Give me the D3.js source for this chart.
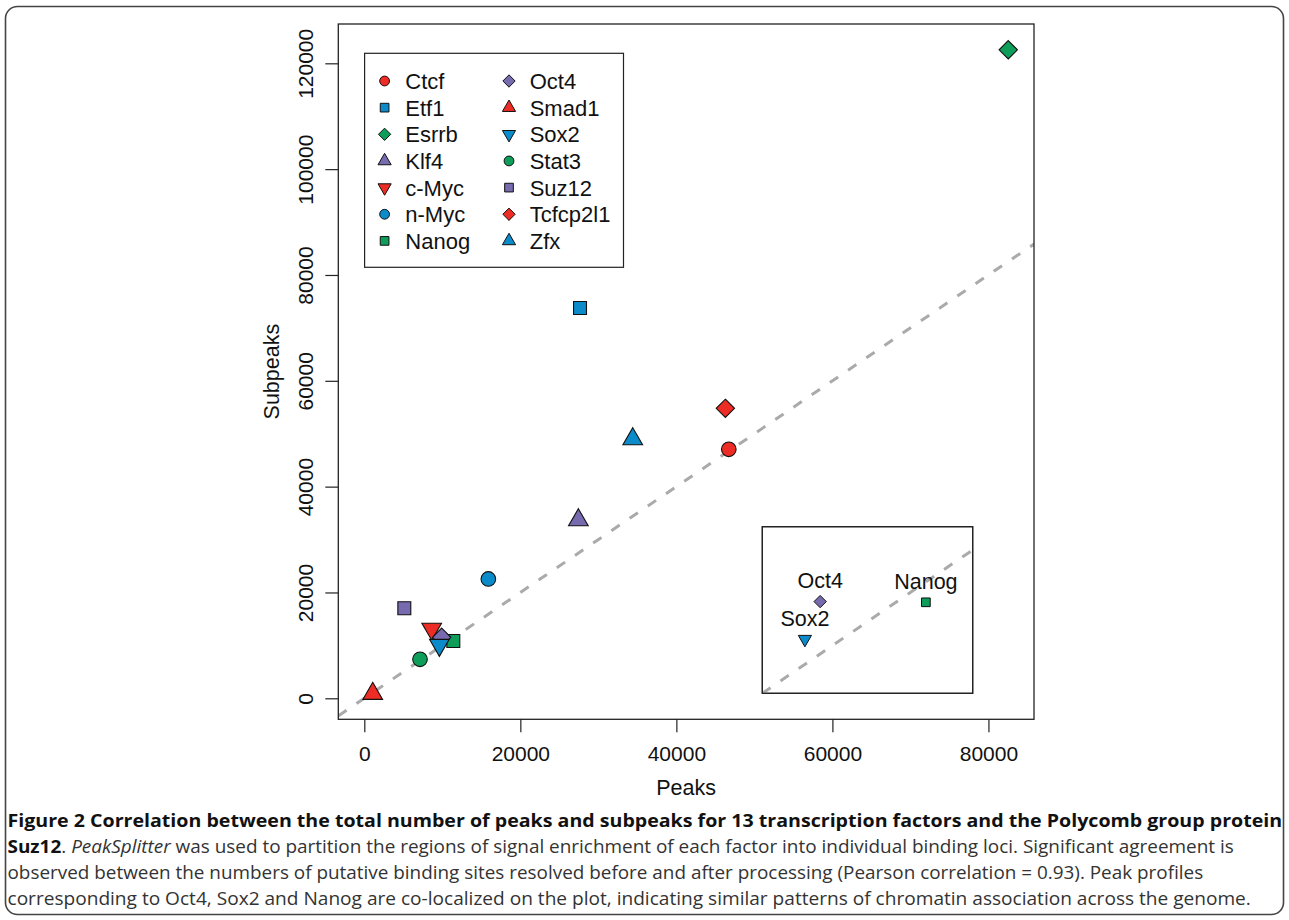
<!DOCTYPE html>
<html>
<head>
<meta charset="utf-8">
<script src="https://cdn.jsdelivr.net/npm/d3@7"></script>
<style>
  html, body { margin: 0; padding: 0; background: #fff; }
  svg { display: block; }
  text { font-family: "Liberation Sans", Arial, Helvetica, sans-serif; }
  .cap { font-family: "Open Sans", "Noto Sans", sans-serif; }
</style>
</head>
<body>
<svg id="chart" width="1289" height="920"></svg>
<script>
// ---------------- data ----------------
const factors  = ["Ctcf","Etf1","Esrrb","Klf4","c-Myc","n-Myc","Nanog","Oct4","Smad1","Sox2","Stat3","Suz12","Tcfcp2l1","Zfx"];
const peaks    = [46720, 27650, 82540, 27440, 8640, 15900, 11410, 9920, 1080, 9620, 7140, 5130, 46280, 34410];
const subpeaks = [47060, 73760, 122560, 33690, 13110, 22550, 10830, 11530, 870, 10070, 7370, 17010, 54800, 49000];
const shapes   = ["circle","square","diamond","triUp","triDown","circle","square","diamond","triUp","triDown","circle","square","diamond","triUp"];
const colorKeys = ["red","blue","green","purple","red","blue","green","purple","red","blue","green","purple","red","blue"];

const xTicks = [0, 20000, 40000, 60000, 80000];
const yTicks = [0, 20000, 40000, 60000, 80000, 100000, 120000];

const insetFactors  = ["Oct4","Sox2","Nanog"];
const insetPeaks    = [9100, 8810, 11110];
const insetSubpeaks = [10560, 9510, 10540];

const captionLines = [
  [{t:"Figure 2 Correlation between the total number of peaks and subpeaks for 13 transcription factors and the Polycomb group protein", s:"b"}],
  [{t:"Suz12", s:"b"}, {t:". ", s:"n"}, {t:"PeakSplitter", s:"i"}, {t:" was used to partition the regions of signal enrichment of each factor into individual binding loci. Significant agreement is", s:"n"}],
  [{t:"observed between the numbers of putative binding sites resolved before and after processing (Pearson correlation = 0.93). Peak profiles", s:"n"}],
  [{t:"corresponding to Oct4, Sox2 and Nanog are co-localized on the plot, indicating similar patterns of chromatin association across the genome.", s:"n"}]
];

// ---------------- styles ----------------
const palette = { red: "#EC2C25", blue: "#0B8BC9", green: "#0E9E5A", purple: "#786AAF" };
const svg = d3.select("#chart");

svg.append("rect").attr("x", 5.5).attr("y", 6.5).attr("width", 1278).attr("height", 908)
  .attr("rx", 12).attr("fill", "#fff").attr("stroke", "#444").attr("stroke-width", 1.6);

const box = { l: 338.3, r: 1034, t: 24, b: 719.3 };
const x = d3.scaleLinear().domain([-3333, 85840]).range([box.l, box.r]);
const y = d3.scaleLinear().domain([-3970, 127430]).range([box.b, box.t]);

function shapePath(shape, r) {
  const p = d3.path();
  if (shape === "circle") { p.arc(0, 0, r, 0, 2 * Math.PI); return p.toString(); }
  if (shape === "square") { const h = 0.8862 * r; p.rect(-h, -h, 2 * h, 2 * h); return p.toString(); }
  if (shape === "diamond") { const h = 1.2533 * r; p.moveTo(0, -h); p.lineTo(h, 0); p.lineTo(0, h); p.lineTo(-h, 0); p.closePath(); return p.toString(); }
  const R = 1.5551 * r, xc = R * Math.sqrt(3) / 2, yc = R / 2;
  if (shape === "triUp") { p.moveTo(0, -R); p.lineTo(xc, yc); p.lineTo(-xc, yc); p.closePath(); return p.toString(); }
  p.moveTo(0, R); p.lineTo(xc, -yc); p.lineTo(-xc, -yc); p.closePath(); return p.toString();
}

// clip for the plot region
svg.append("clipPath").attr("id", "plotClip").append("rect")
  .attr("x", box.l).attr("y", box.t).attr("width", box.r - box.l).attr("height", box.b - box.t);

const plot = svg.append("g").attr("clip-path", "url(#plotClip)");

// y = x reference line
plot.append("line")
  .attr("x1", x(x.domain()[0])).attr("y1", y(x.domain()[0]))
  .attr("x2", x(x.domain()[1])).attr("y2", y(x.domain()[1]))
  .attr("stroke", "#AAAAAA").attr("stroke-width", 3).attr("stroke-dasharray", "10,12");

// points
plot.selectAll("path.pt").data(factors).join("path").attr("class", "pt")
  .attr("transform", (d, i) => `translate(${x(peaks[i])},${y(subpeaks[i])})`)
  .attr("d", (d, i) => shapePath(shapes[i], 7.3))
  .attr("fill", (d, i) => palette[colorKeys[i]])
  .attr("stroke", "#111").attr("stroke-width", 1.1);

// plot frame
svg.append("rect").attr("x", box.l).attr("y", box.t).attr("width", box.r - box.l).attr("height", box.b - box.t)
  .attr("fill", "none").attr("stroke", "#222").attr("stroke-width", 1.3);

// axes
const xAxis = d3.axisBottom(x).tickValues(xTicks).tickSize(13).tickPadding(14).tickFormat(d3.format("d"));
const gx = svg.append("g").attr("transform", `translate(0,${box.b})`).call(xAxis);
gx.select(".domain").remove();
gx.selectAll(".tick line").attr("stroke", "#222").attr("stroke-width", 1.2);
gx.selectAll(".tick text").attr("font-size", 21).attr("fill", "#111")
  .attr("font-family", "Liberation Sans, Arial, sans-serif").attr("y", 42).attr("dy", null);

const yAxis = d3.axisLeft(y).tickValues(yTicks).tickSize(13).tickFormat(d3.format("d"));
const gy = svg.append("g").attr("transform", `translate(${box.l},0)`).call(yAxis);
gy.select(".domain").remove();
gy.selectAll(".tick line").attr("stroke", "#222").attr("stroke-width", 1.2);
gy.selectAll(".tick text").attr("font-size", 21).attr("fill", "#111")
  .attr("font-family", "Liberation Sans, Arial, sans-serif")
  .attr("x", null).attr("dy", null).attr("text-anchor", "middle")
  .attr("transform", "translate(-25.3,0) rotate(-90)");

svg.append("text").attr("x", (box.l + box.r) / 2).attr("y", 795).attr("text-anchor", "middle")
  .attr("font-size", 21.5).attr("fill", "#111").text("Peaks");
svg.append("text").attr("transform", `translate(278.5,${(box.t + box.b) / 2}) rotate(-90)`)
  .attr("text-anchor", "middle").attr("font-size", 21.5).attr("fill", "#111").text("Subpeaks");

// legend
const leg = { l: 364.6, t: 53.3, r: 623.5, b: 267.3 };
svg.append("rect").attr("x", leg.l).attr("y", leg.t).attr("width", leg.r - leg.l).attr("height", leg.b - leg.t)
  .attr("fill", "#fff").attr("stroke", "#222").attr("stroke-width", 1.2);
const legItems = svg.append("g").selectAll("g").data(factors).join("g")
  .attr("transform", (d, i) => {
    const col = Math.floor(i / 7), row = i % 7;
    return `translate(${leg.l + 20 + col * 124.4},${leg.t + 27.7 + row * 26.65})`;
  });
legItems.append("path").attr("d", (d, i) => shapePath(shapes[i], 4.9))
  .attr("fill", (d, i) => palette[colorKeys[i]]).attr("stroke", "#111").attr("stroke-width", 1);
legItems.append("text").attr("x", 20.7).attr("y", 8).attr("font-size", 22).attr("fill", "#111").text(d => d);

// inset
const ib = { l: 762.3, r: 972.7, t: 526.7, b: 693.3 };
svg.append("rect").attr("x", ib.l).attr("y", ib.t).attr("width", ib.r - ib.l).attr("height", ib.b - ib.t)
  .attr("fill", "#fff").attr("stroke", "#222").attr("stroke-width", 1.2);
const ix = d3.scaleLinear().domain([8000, 12000]).range([ib.l, ib.r]);
const iy = d3.scaleLinear().domain([8000, 12650]).range([ib.b, ib.t]);
svg.append("clipPath").attr("id", "insetClip").append("rect")
  .attr("x", ib.l).attr("y", ib.t).attr("width", ib.r - ib.l).attr("height", ib.b - ib.t);
const inset = svg.append("g").attr("clip-path", "url(#insetClip)");
inset.append("line")
  .attr("x1", ix(8000)).attr("y1", iy(8000)).attr("x2", ix(12000)).attr("y2", iy(12000))
  .attr("stroke", "#AAAAAA").attr("stroke-width", 3).attr("stroke-dasharray", "10,12");
const insetIdx = insetFactors.map(f => factors.indexOf(f));
inset.selectAll("path.ip").data(insetFactors).join("path").attr("class", "ip")
  .attr("transform", (d, i) => `translate(${ix(insetPeaks[i])},${iy(insetSubpeaks[i])})`)
  .attr("d", (d, i) => shapePath(shapes[insetIdx[i]], 4.9))
  .attr("fill", (d, i) => palette[colorKeys[insetIdx[i]]]).attr("stroke", "#111").attr("stroke-width", 1);
inset.selectAll("text.il").data(insetFactors).join("text").attr("class", "il")
  .attr("x", (d, i) => ix(insetPeaks[i])).attr("y", (d, i) => iy(insetSubpeaks[i]) - 13.5)
  .attr("text-anchor", "middle").attr("font-size", 21.5).attr("fill", "#111").text(d => d);
svg.append("rect").attr("x", ib.l).attr("y", ib.t).attr("width", ib.r - ib.l).attr("height", ib.b - ib.t)
  .attr("fill", "none").attr("stroke", "#222").attr("stroke-width", 1.2);

// caption
const capBase = [826.5, 853, 879, 905];
const capWidth = [1275, 1227, 1196, 1244];
captionLines.forEach((parts, li) => {
  const t = svg.append("text").attr("class", "cap").attr("font-size", 17.5).attr("x", 0).attr("y", 0);
  parts.forEach(p => {
    t.append("tspan").text(p.t)
      .attr("font-weight", p.s === "b" ? 700 : 400)
      .attr("font-style", p.s === "i" ? "italic" : "normal")
      .attr("fill", p.s === "b" ? "#111" : "#333");
  });
  const w = t.node().getComputedTextLength();
  t.attr("transform", `translate(7.5,${capBase[li]}) scale(${capWidth[li] / w},1.06)`);
});
</script>
</body>
</html>
